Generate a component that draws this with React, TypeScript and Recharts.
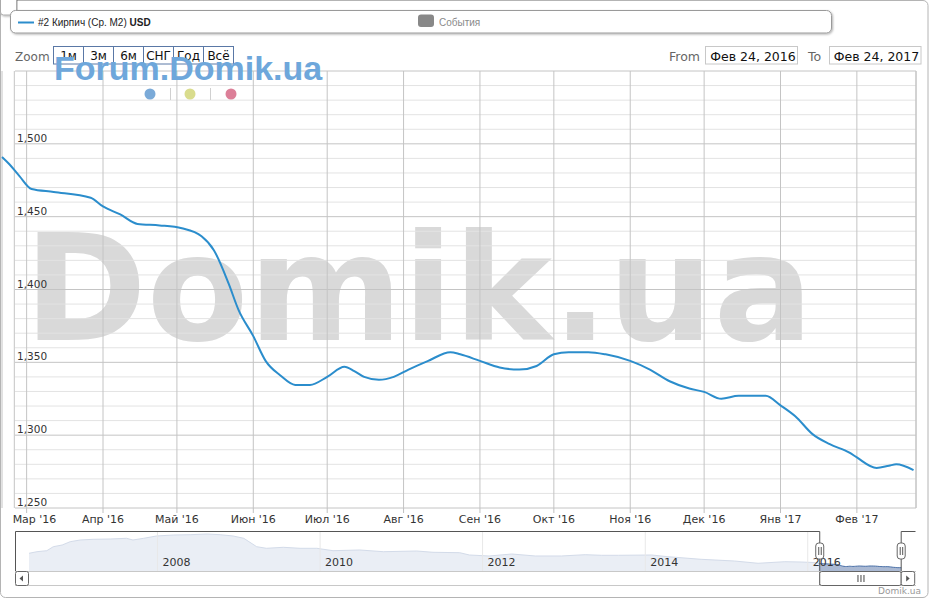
import React from 'react';
import { LineChart, Line, XAxis, YAxis, CartesianGrid, ReferenceLine, AreaChart, Area } from 'recharts';

// ---- main series: "#2 Кирпич (Ср. М2)" USD ----
const priceDates = [
  '2016-02-20', '2016-02-23', '2016-02-27', '2016-03-03', '2016-03-12', '2016-03-27',
  '2016-04-01', '2016-04-08', '2016-04-15', '2016-04-24', '2016-05-03', '2016-05-11',
  '2016-05-16', '2016-05-22', '2016-05-26', '2016-06-01', '2016-06-06', '2016-06-12',
  '2016-06-18', '2016-06-24', '2016-07-01', '2016-07-08', '2016-07-12', '2016-07-16',
  '2016-07-22', '2016-07-28', '2016-08-03', '2016-08-11', '2016-08-20', '2016-08-24',
  '2016-09-01', '2016-09-09', '2016-09-17', '2016-09-24', '2016-10-01', '2016-10-07',
  '2016-10-15', '2016-10-22', '2016-11-01', '2016-11-09', '2016-11-17', '2016-11-25',
  '2016-12-01', '2016-12-08', '2016-12-15', '2016-12-26', '2017-01-01', '2017-01-07',
  '2017-01-14', '2017-01-21', '2017-01-29', '2017-02-01', '2017-02-09', '2017-02-14',
  '2017-02-17', '2017-02-24',
];
const prices = [
  1491, 1486, 1478, 1469, 1467, 1463,
  1457, 1451.5, 1445, 1444, 1442, 1436.5,
  1427, 1404, 1386, 1368, 1351, 1341,
  1334.5, 1334.5, 1340, 1347, 1344, 1340,
  1338, 1340, 1345, 1351, 1357, 1355.5,
  1351, 1346.5, 1345, 1347.5, 1355.5, 1357,
  1357, 1355.5, 1351, 1345, 1337, 1332,
  1329.7, 1325, 1327, 1327, 1320.5, 1313,
  1300.7, 1293.8, 1288, 1284.7, 1277.5, 1279,
  1280, 1276,
];

// ---- axis ticks / labels ----
const monthTickDates = [
  '2016-03-01', '2016-04-01', '2016-05-01', '2016-06-01', '2016-07-01', '2016-08-01',
  '2016-09-01', '2016-10-01', '2016-11-01', '2016-12-01', '2017-01-01', '2017-02-01',
];
const monthLabels = [
  "Мар '16", "Апр '16", "Май '16", "Июн '16", "Июл '16", "Авг '16",
  "Сен '16", "Окт '16", "Ноя '16", "Дек '16", "Янв '17", "Фев '17",
];
const priceMajorTicks = [1250, 1300, 1350, 1400, 1450, 1500, 1550];
const priceMinorTicks = [
  1260, 1270, 1280, 1290, 1310, 1320, 1330, 1340, 1360, 1370, 1380, 1390,
  1410, 1420, 1430, 1440, 1460, 1470, 1480, 1490, 1510, 1520, 1530, 1540,
];
const priceDomain = [1250, 1550];
const plotStart = '2016-02-25';
const plotEnd = '2017-02-25';
const rangeFrom = '2016-02-24';
const rangeTo = '2017-02-24';
const rangeFromLabel = 'Фев 24, 2016';
const rangeToLabel = 'Фев 24, 2017';
const zoomButtons = ['1м', '3м', '6м', 'СНГ', 'Год', 'Всё'];

// ---- navigator (full history) ----
const historyDates = [
  '2006-06-03', '2006-07-09', '2006-08-22', '2006-09-20', '2006-10-30', '2006-12-05',
  '2007-01-19', '2007-03-18', '2007-06-03', '2007-08-15', '2007-09-13', '2007-10-31',
  '2007-12-28', '2008-03-14', '2008-05-27', '2008-08-11', '2008-10-09', '2008-12-06',
  '2009-01-23', '2009-03-22', '2009-05-05', '2009-07-20', '2009-10-03', '2009-12-17',
  '2010-02-28', '2010-06-28', '2010-10-12', '2011-03-11', '2011-05-23', '2011-09-20',
  '2011-11-03', '2012-01-30', '2012-05-11', '2012-08-25', '2012-12-20', '2013-04-06',
  '2013-06-18', '2013-09-02', '2014-01-30', '2014-04-13', '2014-09-09', '2015-02-06',
  '2015-05-23', '2015-09-20', '2015-12-02', '2016-02-14',
];
const historyPrices = [
  1981, 2059, 2108, 2303, 2386, 2548,
  2631, 2665, 2680, 2714, 2631, 2714,
  2827, 2876, 2890, 2924, 2890, 2827,
  2714, 2303, 2225, 2274, 2225, 2225,
  2108, 2142, 2059, 2093, 2030, 2010,
  1897, 1849, 1946, 1849, 1849, 1912,
  1883, 1883, 1897, 1814, 1687, 1604,
  1492, 1570, 1555, 1521,
];
const navYearDates = ['2008-01-01', '2010-01-01', '2012-01-01', '2014-01-01', '2016-01-01'];
const navYearLabels = ['2008', '2010', '2012', '2014', '2016'];
const navStart = '2006-04-01';
const navEnd = '2017-04-27';
const navDomain = [1115, 3071];

const ts = (s: string) => Date.parse(s + 'T00:00:00Z');

const mainData = priceDates.map((d, i) => ({ t: ts(d), price: prices[i] }));
const navData = [
  ...historyDates.map((d, i) => ({ t: ts(d), all: historyPrices[i] })),
  ...priceDates.map((d, i) => ({ t: ts(d), all: prices[i], sel: prices[i] })),
];
const monthTickTimes = monthTickDates.map(ts);

const LINE = '#2b8dcc';
const FONT = '"DejaVu Sans", sans-serif';
const ARIAL = '"Liberation Sans", Arial, sans-serif';

const MonthTick = (props: any) => {
  const { x, y, payload, index } = props;
  const i = monthTickTimes.indexOf(payload.value);
  const first = index === 0;
  return (
    <text x={first ? x - 14 : x} y={y} dy={8} textAnchor={first ? 'start' : 'middle'}
      fontSize={11} fill="#333" fontFamily={FONT}>{i >= 0 ? monthLabels[i] : ''}</text>
  );
};

const PriceTick = (props: any) => {
  const { x, y, payload } = props;
  if (payload.value === priceDomain[1]) return <g />;
  return (
    <text x={x} y={y - 2} fontSize={10.5} fill="#333" fontFamily={FONT} textAnchor="start">
      {Number(payload.value).toLocaleString('en-US')}
    </text>
  );
};

// navigator geometry (same domain as the navigator XAxis)
const NAV_LEFT = 15;
const NAV_W = 900;
const navX = (d: string) => NAV_LEFT + ((ts(d) - ts(navStart)) / (ts(navEnd) - ts(navStart))) * NAV_W;

export default function App() {
  const selA = navX(rangeFrom);
  const selB = navX(rangeTo);
  const btnX0 = 53.5;
  const btnW = 30;
  return (
    <div style={{ position: 'absolute', left: 0, top: 0, width: 931, height: 600, background: '#fff', overflow: 'hidden' }}>
      {/* watermark */}
      <svg width={931} height={600} style={{ position: 'absolute', left: 0, top: 0 }}>
        <text x={24} y={340} fontFamily={FONT} fontWeight="bold" fontSize={148} fill="#d9d9d9">Domik.ua</text>
      </svg>

      {/* main chart */}
      <div style={{ position: 'absolute', left: 0, top: 0 }}>
        <LineChart width={931} height={600} data={mainData} margin={{ top: 71, right: 15, bottom: 62, left: 2 }}>
          <XAxis dataKey="t" type="number" domain={['dataMin', ts(plotEnd)]} ticks={monthTickTimes} interval={0}
            axisLine={false} tickLine={{ stroke: '#c0c0c0' }} tickSize={5} tickMargin={2} height={30}
            tick={<MonthTick />} />
          <YAxis yAxisId="p" domain={priceDomain} ticks={priceMajorTicks} interval={0} mirror width={1}
            axisLine={false} tickLine={false} tickSize={0} tickMargin={15} tick={<PriceTick />} />
          <CartesianGrid yAxisId="p" vertical={false} horizontalValues={priceMinorTicks} stroke="#e3e3e3"
            x={15} width={901} />
          <CartesianGrid yAxisId="p" stroke="#c4c4c4" x={15} width={901} />
          <ReferenceLine yAxisId="p" x={ts(plotStart)} stroke="#c4c4c4" />
          <ReferenceLine yAxisId="p" x={ts(plotEnd)} stroke="#c4c4c4" />
          <Line yAxisId="p" dataKey="price" type="monotone" stroke={LINE} strokeWidth={2} dot={false}
            activeDot={false} isAnimationActive={false} />
        </LineChart>
      </div>

      {/* navigator */}
      <div style={{ position: 'absolute', left: NAV_LEFT, top: 531 }}>
        <AreaChart width={NAV_W} height={40} data={navData} margin={{ top: 0, right: 0, bottom: 0, left: 0 }}>
          <XAxis dataKey="t" type="number" domain={[ts(navStart), ts(navEnd)]} allowDataOverflow hide />
          <YAxis domain={navDomain} allowDataOverflow hide />
          {navYearDates.map((d, i) => (
            <ReferenceLine key={d} x={ts(d)} stroke="#e8e8e8"
              label={{ value: navYearLabels[i], position: 'insideBottomLeft', offset: 5, fill: '#333', fontSize: 11, fontFamily: FONT }} />
          ))}
          <Area dataKey="all" type="linear" stroke="#d3dbe9" strokeWidth={1} fill="#eaeef5" fillOpacity={1}
            isAnimationActive={false} />
          <Area dataKey="sel" type="linear" stroke="#4f74aa" strokeWidth={1} fill="#aab9d3" fillOpacity={1}
            isAnimationActive={false} />
        </AreaChart>
      </div>

      {/* overlay UI */}
      <svg width={931} height={600} style={{ position: 'absolute', left: 0, top: 0, pointerEvents: 'none' }}>
        <defs>
          <filter id="sh" x="-5%" y="-50%" width="110%" height="200%">
            <feDropShadow dx="1" dy="1" stdDeviation="1" floodColor="#000" floodOpacity="0.3" />
          </filter>
        </defs>
        {/* outer border */}
        <rect x={0.5} y={0.5} width={927.5} height={597} rx={5} fill="none" stroke="#b4b4b4" />
        {/* corner handle */}
        <rect x={0.5} y={-4} width={16} height={19} rx={3} fill="#fff" stroke="#aaa" filter="url(#sh)" />

        {/* legend box */}
        <rect x={10.5} y={10.5} width={821} height={22.5} rx={5} fill="#fff" stroke="#9a9a9a" filter="url(#sh)" />
        <line x1={18} x2={34} y1={22.5} y2={22.5} stroke={LINE} strokeWidth={2} />
        <text x={38} y={25.5} fontSize={10} fontFamily={ARIAL} fill="#222">
          #2 Кирпич (Ср. М2) <tspan fontWeight="bold">USD</tspan>
        </text>
        <rect x={418} y={14.5} width={16} height={12.5} rx={3} fill="#888" />
        <text x={439} y={25.5} fontSize={10} fontFamily={ARIAL} fill="#8a8a8a">События</text>

        {/* zoom buttons */}
        <text x={15} y={60.5} fontSize={12} fontFamily={FONT} fill="#666">Zoom</text>
        {zoomButtons.map((b, i) => (
          <g key={b}>
            <rect x={btnX0 + i * btnW} y={46.5} width={btnW} height={17.5} fill="#fff" stroke="#5a78a6" />
            <text x={btnX0 + i * btnW + btnW / 2} y={60} textAnchor="middle" fontSize={12} fontFamily={FONT} fill="#111">{b}</text>
          </g>
        ))}

        {/* from / to */}
        <text x={669} y={60.5} fontSize={12.5} fontFamily={FONT} fill="#666">From</text>
        <rect x={705.5} y={46.5} width={92} height={17.5} fill="#fff" stroke="#c8c8c8" />
        <text x={753} y={60.5} textAnchor="middle" fontSize={12.5} fontFamily={FONT} fill="#111">{rangeFromLabel}</text>
        <text x={808} y={60.5} fontSize={12.5} fontFamily={FONT} fill="#666">To</text>
        <rect x={829.5} y={46.5} width={91.5} height={17.5} fill="#fff" stroke="#c8c8c8" />
        <text x={876.5} y={60.5} textAnchor="middle" fontSize={12.5} fontFamily={FONT} fill="#111">{rangeToLabel}</text>

        {/* Forum.Domik.ua logo */}
        <text x={54} y={80} fontSize={34} fontWeight="bold" fontFamily={ARIAL} fill="#6ea7db">Forum.Domik.ua</text>
        <circle cx={150} cy={94} r={5.5} fill="#7aaad8" />
        <line x1={170.5} x2={170.5} y1={88} y2={100} stroke="#d0d0d0" />
        <circle cx={190} cy={94} r={5.5} fill="#d9dc8d" />
        <line x1={210.5} x2={210.5} y1={88} y2={100} stroke="#d0d0d0" />
        <circle cx={231} cy={94} r={5.5} fill="#dc7f98" />

        {/* navigator outline */}
        <path d={`M15.5,571 L15.5,531.5 L${selA},531.5 L${selA},585 M${selB},585 L${selB},531.5 L915.5,531.5`}
          fill="none" stroke="#555" />
        {/* scrollbar */}
        <line x1={15} x2={916} y1={585.5} y2={585.5} stroke="#c8c8c8" />
        <line x1={15} x2={916} y1={571.5} y2={571.5} stroke="#c8c8c8" />
        <rect x={15.5} y={571.5} width={13} height={14} rx={2} fill="#fff" stroke="#666" />
        <path d="M23,575.5 L19.5,578.5 L23,581.5 Z" fill="#555" />
        <rect x={selA} y={571.5} width={selB - selA} height={14} rx={2} fill="#fff" stroke="#666" />
        {[-3, 0, 3].map((dx) => (
          <line key={dx} x1={(selA + selB) / 2 + dx + 0.5} x2={(selA + selB) / 2 + dx + 0.5} y1={575} y2={582} stroke="#444" />
        ))}
        <rect x={selB} y={571.5} width={13.5} height={14} rx={2} fill="#fff" stroke="#666" />
        <path d={`M${selB + 5},575.5 L${selB + 8.5},578.5 L${selB + 5},581.5 Z`} fill="#555" />
        {/* handles */}
        {[selA, selB].map((hx) => (
          <g key={hx}>
            <rect x={hx - 4} y={543} width={8} height={16} rx={3} fill="#fff" stroke="#666" />
            <line x1={hx - 1} x2={hx - 1} y1={547} y2={555} stroke="#555" />
            <line x1={hx + 1.5} x2={hx + 1.5} y1={547} y2={555} stroke="#555" />
          </g>
        ))}

        {/* credit */}
        <text x={921} y={594} textAnchor="end" fontSize={9} fontFamily={FONT} fill="#999">Domik.ua</text>
      </svg>
    </div>
  );
}
